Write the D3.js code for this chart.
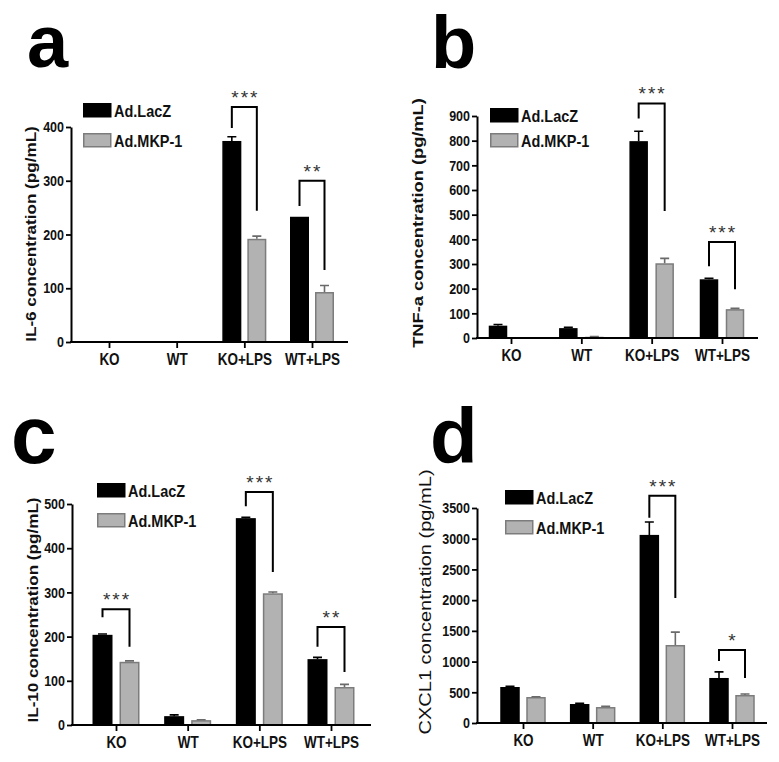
<!DOCTYPE html>
<html><head><meta charset="utf-8">
<script src="https://cdn.jsdelivr.net/npm/d3@7"></script>
<style>body{margin:0;background:#fff} text{font-family:"Liberation Sans",Arial,Helvetica,sans-serif}</style>
</head><body>
<svg id="chart" width="779" height="762"></svg>
<script>
// ---------- data ----------
const categories = ["KO", "WT", "KO+LPS", "WT+LPS"];
const seriesNames = ["Ad.LacZ", "Ad.MKP-1"];

const il6LacZ = [0, 0, 374, 233];
const il6LacZErr = [0, 0, 8, 0];
const il6MKP = [0, 0, 192, 93];
const il6MKPErr = [0, 0, 5, 12];
const il6Ticks = [0, 100, 200, 300, 400];
const il6BracketCats = [2, 3];
const il6BracketTop = [437, 300];
const il6BracketLeft = [398, 253];
const il6BracketRight = [244, 134];
const il6BracketStars = ["***", "**"];

const tnfLacZ = [50, 40, 798, 238];
const tnfLacZErr = [5, 3, 40, 4];
const tnfMKP = [0, 5, 303, 117];
const tnfMKPErr = [0, 1, 20, 3];
const tnfTicks = [0, 100, 200, 300, 400, 500, 600, 700, 800, 900];
const tnfBracketCats = [2, 3];
const tnfBracketTop = [951, 389];
const tnfBracketLeft = [890, 291];
const tnfBracketRight = [515, 198];
const tnfBracketStars = ["***", "***"];

const il10LacZ = [204, 20, 468, 149];
const il10LacZErr = [2, 3, 2, 4];
const il10MKP = [143, 11, 298, 86];
const il10MKPErr = [2, 1, 3, 6];
const il10Ticks = [0, 100, 200, 300, 400, 500];
const il10BracketCats = [0, 2, 3];
const il10BracketTop = [262, 527, 222];
const il10BracketLeft = [244, 495, 177];
const il10BracketRight = [177, 346, 120];
const il10BracketStars = ["***", "***", "**"];

const cxclLacZ = [586, 309, 3062, 733];
const cxclLacZErr = [10, 10, 210, 100];
const cxclMKP = [423, 260, 1270, 456];
const cxclMKPErr = [5, 10, 210, 15];
const cxclTicks = [0, 500, 1000, 1500, 2000, 2500, 3000, 3500];
const cxclBracketCats = [2, 3];
const cxclBracketTop = [3700, 1190];
const cxclBracketLeft = [3340, 1010];
const cxclBracketRight = [2035, 733];
const cxclBracketStars = ["***", "*"];

// ---------- layout ----------
const S = 1.18; // vertical stretch of the original figure's lettering
const GREY = "#b2b2b2", GREY_STROKE = "#7c7c7c";
const svg = d3.select("#chart");

const panels = [
  { letter: "a", letterX: 27, letterY: 67, letterSize: 74, x0: 71, x1: 348, y0: 342, yTop: 127, cat: [109, 312], barW: 19, off: 12.5,
    legX: 83, legY: [103, 133], ylab: "IL-6 concentration (pg/mL)", ylabX: 36, ylabY: 234, ylabSize: 14.5, ylabWeight: "bold",
    lacz: il6LacZ, laczErr: il6LacZErr, mkp: il6MKP, mkpErr: il6MKPErr, ticks: il6Ticks,
    bc: il6BracketCats, bt: il6BracketTop, bl: il6BracketLeft, br: il6BracketRight, bs: il6BracketStars },
  { letter: "b", letterX: 431, letterY: 68, letterSize: 74, x0: 477, x1: 758, y0: 338, yTop: 116, cat: [511, 722], barW: 18.5, off: 13,
    legX: 490, legY: [108, 133], ylab: "TNF-a concentration (pg/mL)", ylabX: 423, ylabY: 223, ylabSize: 15.5, ylabWeight: "bold",
    lacz: tnfLacZ, laczErr: tnfLacZErr, mkp: tnfMKP, mkpErr: tnfMKPErr, ticks: tnfTicks,
    bc: tnfBracketCats, bt: tnfBracketTop, bl: tnfBracketLeft, br: tnfBracketRight, bs: tnfBracketStars },
  { letter: "c", letterX: 11, letterY: 463, letterSize: 82, x0: 72, x1: 371, y0: 725, yTop: 504, cat: [116, 331], barW: 20, off: 13.5,
    legX: 97, legY: [483, 513], ylab: "IL-10 concentration (pg/mL)", ylabX: 38, ylabY: 610, ylabSize: 14.5, ylabWeight: "bold",
    lacz: il10LacZ, laczErr: il10LacZErr, mkp: il10MKP, mkpErr: il10MKPErr, ticks: il10Ticks,
    bc: il10BracketCats, bt: il10BracketTop, bl: il10BracketLeft, br: il10BracketRight, bs: il10BracketStars },
  { letter: "d", letterX: 430, letterY: 463, letterSize: 78, x0: 477, x1: 767, y0: 723, yTop: 508, cat: [523, 732], barW: 19.5, off: 13,
    legX: 505, legY: [490, 520], ylab: "CXCL1 concentration (pg/mL)", ylabX: 431, ylabY: 602, ylabSize: 17, ylabWeight: "normal",
    lacz: cxclLacZ, laczErr: cxclLacZErr, mkp: cxclMKP, mkpErr: cxclMKPErr, ticks: cxclTicks,
    bc: cxclBracketCats, bt: cxclBracketTop, bl: cxclBracketLeft, br: cxclBracketRight, bs: cxclBracketStars }
];

function stretchedText(g, x, y, str) {
  return g.append("text").attr("transform", `translate(${x},${y}) scale(1,${S})`).text(str);
}

panels.forEach(p => {
  const g = svg.append("g");
  const y = d3.scaleLinear().domain([0, d3.max(p.ticks)]).range([p.y0, p.yTop]);
  const x = d3.scalePoint().domain(categories).range(p.cat);

  // panel letter
  g.append("text").attr("x", p.letterX).attr("y", p.letterY)
    .attr("font-size", p.letterSize).attr("font-weight", "bold").attr("fill", "#000").text(p.letter);

  // bars + error bars
  const series = [
    { vals: p.lacz, errs: p.laczErr, fill: "#000", stroke: "#000", off: -p.off, errColor: "#000" },
    { vals: p.mkp, errs: p.mkpErr, fill: GREY, stroke: GREY_STROKE, off: p.off, errColor: "#6a6a6a" }
  ];
  series.forEach(s => {
    const data = categories.map((c, i) => ({ c, v: s.vals[i], e: s.errs[i] })).filter(d => d.v > 0);
    g.selectAll(null).data(data).join("rect")
      .attr("x", d => x(d.c) + s.off - p.barW / 2 + 0.75)
      .attr("y", d => y(d.v) + 0.75)
      .attr("width", p.barW - 1.5)
      .attr("height", d => Math.max(0, y(0) - y(d.v) - 0.75))
      .attr("fill", s.fill).attr("stroke", s.stroke).attr("stroke-width", 1.5);
    const eb = data.filter(d => d.e > 0);
    g.selectAll(null).data(eb).join("path")
      .attr("d", d => {
        const cx = x(d.c) + s.off, yt = y(d.v + d.e), yb = y(d.v);
        return `M${cx},${yb}V${yt}M${cx - 4.5},${yt}H${cx + 4.5}`;
      })
      .attr("fill", "none").attr("stroke", s.errColor).attr("stroke-width", 1.6);
  });

  // y axis
  const ya = g.append("g").attr("transform", `translate(${p.x0},0)`)
    .call(d3.axisLeft(y).tickValues(p.ticks).tickSize(5).tickSizeOuter(0).tickPadding(2).tickFormat(d3.format("d")));
  ya.select(".domain").attr("stroke", "#000").attr("stroke-width", 2);
  ya.selectAll(".tick line").attr("stroke", "#000").attr("stroke-width", 1.8);
  ya.selectAll(".tick text").attr("font-size", 12.5).attr("font-weight", "bold").attr("fill", "#111")
    .attr("font-family", '"Liberation Sans",Arial,sans-serif')
    .attr("transform", `scale(1,${S})`);

  // x axis
  const xa = g.append("g").attr("transform", `translate(0,${p.y0})`)
    .call(d3.axisBottom(x).tickSize(6).tickSizeOuter(0));
  xa.select(".domain").remove();
  xa.append("line").attr("x1", p.x0 - 1).attr("x2", p.x1).attr("y1", 0).attr("y2", 0)
    .attr("stroke", "#000").attr("stroke-width", 2.2);
  xa.selectAll(".tick line").attr("stroke", "#000").attr("stroke-width", 1.8);
  xa.selectAll(".tick text").attr("font-size", 13.5).attr("font-weight", "bold").attr("fill", "#111")
    .attr("font-family", '"Liberation Sans",Arial,sans-serif')
    .attr("y", 0).attr("dy", 0)
    .attr("transform", `translate(0,${23}) scale(1,${S})`);

  // y label
  g.append("text")
    .attr("transform", `translate(${p.ylabX},${p.ylabY}) scale(1,${S}) rotate(-90)`)
    .attr("text-anchor", "middle").attr("font-size", p.ylabSize).attr("font-weight", p.ylabWeight)
    .attr("fill", "#111").text(p.ylab);

  // legend
  const legFill = ["#000", GREY], legStroke = ["#000", GREY_STROKE];
  seriesNames.forEach((n, i) => {
    g.append("rect").attr("x", p.legX + 0.75).attr("y", p.legY[i] + 0.75).attr("width", 27).attr("height", 13)
      .attr("fill", legFill[i]).attr("stroke", legStroke[i]).attr("stroke-width", 1.5);
    stretchedText(g, p.legX + 31, p.legY[i] + 13.5, n)
      .attr("font-size", 14.5).attr("font-weight", "bold").attr("fill", "#111");
  });

  // significance brackets
  p.bc.forEach((ci, k) => {
    const c = categories[ci];
    const xl = x(c) - p.off, xr = x(c) + p.off;
    g.append("path")
      .attr("d", `M${xl},${y(p.bl[k])}V${y(p.bt[k])}H${xr}V${y(p.br[k])}`)
      .attr("fill", "none").attr("stroke", "#000").attr("stroke-width", 2);
    g.append("text").attr("x", (xl + xr) / 2 + 1).attr("y", y(p.bt[k]) - 3)
      .attr("text-anchor", "middle").attr("font-size", 19).attr("letter-spacing", 2)
      .attr("fill", "#333").text(p.bs[k]);
  });
});
</script>
</body></html>
